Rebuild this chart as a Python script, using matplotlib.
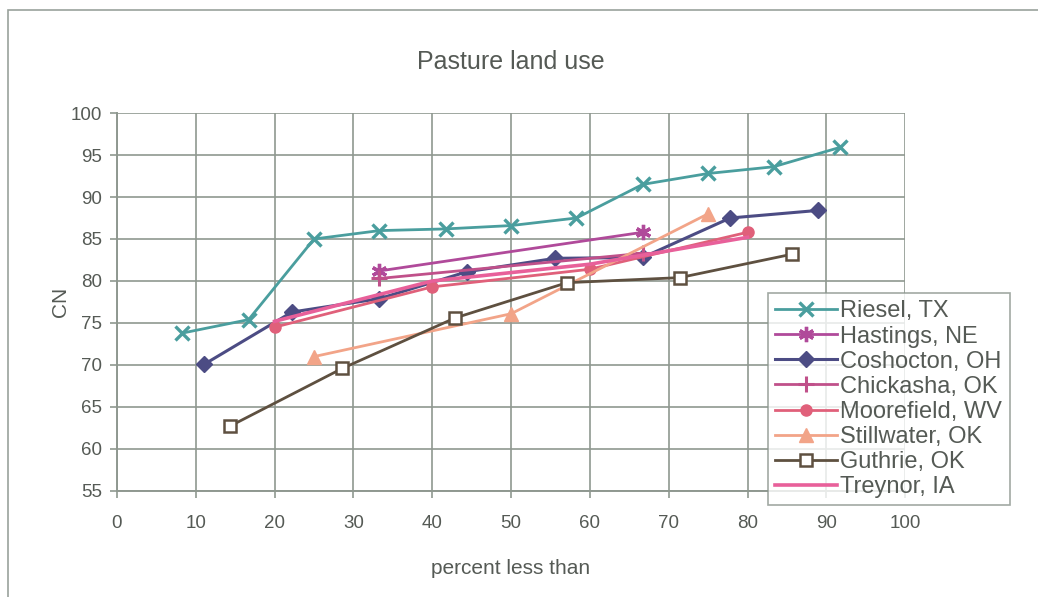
import matplotlib
matplotlib.use("Agg")
import matplotlib.pyplot as plt
from matplotlib.patches import Rectangle

plt.rcParams['font.family'] = ['Liberation Sans', 'DejaVu Sans']

# percent less than (x) and CN (y) for each site
riesel_x = [8.3, 16.7, 25.0, 33.3, 41.7, 50.0, 58.3, 66.7, 75.0, 83.3, 91.7]
riesel_y = [73.8, 75.4, 85.0, 86.0, 86.2, 86.6, 87.5, 91.5, 92.8, 93.6, 95.9]
hastings_x = [33.3, 66.7]
hastings_y = [81.2, 85.8]
coshocton_x = [11.1, 22.2, 33.3, 44.4, 55.6, 66.7, 77.8, 88.9]
coshocton_y = [70.1, 76.3, 77.9, 81.1, 82.7, 82.8, 87.5, 88.4]
chickasha_x = [33.3, 66.7]
chickasha_y = [80.3, 83.3]
moorefield_x = [20, 40, 60, 80]
moorefield_y = [74.5, 79.3, 81.4, 85.8]
stillwater_x = [25, 50, 75]
stillwater_y = [71.0, 76.1, 88.0]
guthrie_x = [14.3, 28.6, 42.9, 57.1, 71.4, 85.7]
guthrie_y = [62.7, 69.6, 75.6, 79.8, 80.4, 83.2]
treynor_x = [20, 40, 60, 80]
treynor_y = [75.2, 80.0, 82.0, 85.2]

fig = plt.figure(figsize=(10.38, 5.97), dpi=100)
ax = fig.add_axes([0.1127, 0.1776, 0.7593, 0.6331])

txt = '#555a55'
grid_c = '#8f9890'

ax.plot(riesel_x, riesel_y, color='#4a9e9e', marker='x', ms=10, mew=2.4, lw=2, label='Riesel, TX')
ax.plot(hastings_x, hastings_y, color='#b04a9a', marker=(6, 2, 0), ms=11, mew=2.4, lw=2, label='Hastings, NE')
ax.plot(coshocton_x, coshocton_y, color='#4c4c84', marker='D', ms=8, lw=2.2, label='Coshocton, OH')
ax.plot(chickasha_x, chickasha_y, color='#c0508a', marker='+', ms=11, mew=2.2, lw=2, label='Chickasha, OK')
ax.plot(moorefield_x, moorefield_y, color='#e0607a', marker='o', ms=8, lw=2, label='Moorefield, WV')
ax.plot(stillwater_x, stillwater_y, color='#f2a488', marker='^', ms=10, lw=2, label='Stillwater, OK')
ax.plot(guthrie_x, guthrie_y, color='#5e5040', marker='s', ms=9, mfc='white', mew=1.8, lw=2, label='Guthrie, OK')
ax.plot(treynor_x, treynor_y, color='#e8609a', lw=2.6, label='Treynor, IA')

ax.set_xlim(0, 100)
ax.set_ylim(55, 100)
ax.set_xticks(range(0, 101, 10))
ax.set_yticks(range(55, 101, 5))
ax.grid(True, color=grid_c, lw=1.2)
ax.set_axisbelow(True)
for s in ['top', 'right']:
    ax.spines[s].set_visible(False)
for s in ['left', 'bottom']:
    ax.spines[s].set_color(grid_c)
    ax.spines[s].set_linewidth(1.4)
ax.tick_params(colors=grid_c, labelcolor=txt, labelsize=13.5, length=5, width=1.2, pad=12)
ax.tick_params(axis='y', pad=6)

ax.set_title('Pasture land use', fontsize=18, color=txt, pad=32)
ax.set_xlabel('percent less than', fontsize=15, color=txt, labelpad=20)
ax.set_ylabel('CN', fontsize=15, color=txt, labelpad=0)

leg = fig.legend(loc='lower left', bbox_to_anchor=(0.740, 0.154, 0.233, 0.355), mode='expand',
                 fontsize=17, frameon=True, fancybox=False, handlelength=2.6, handletextpad=0.15,
                 labelspacing=0.13, borderpad=0.3, borderaxespad=0)
leg.get_frame().set_edgecolor('#8a948c')
leg.get_frame().set_linewidth(1.2)
for t in leg.get_texts():
    t.set_color(txt)

fig.patches.append(Rectangle((0.008, -0.01), 1.2, 0.993, transform=fig.transFigure,
                             fill=False, edgecolor='#9aa29c', lw=1.2))

fig.savefig('out.png', dpi=100)
